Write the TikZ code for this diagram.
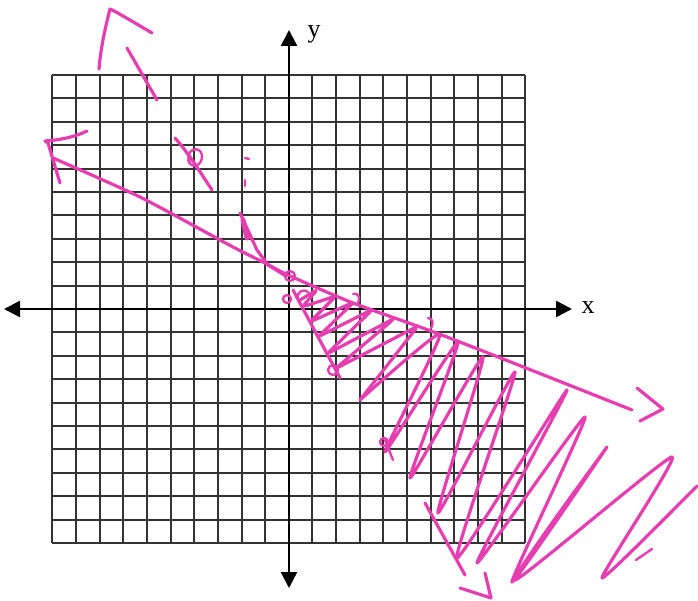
\documentclass[tikz,border=0pt]{standalone}
\usepackage{fontspec}
\setmainfont{Liberation Serif}
\usetikzlibrary{arrows.meta}
\definecolor{pen}{RGB}{230,62,176}
\begin{document}
\begin{tikzpicture}[x=1pt,y=-1pt,
  gridline/.style={black!80,line width=2pt},
  axis/.style={black,line width=2.4pt,{Triangle[length=16pt,width=16pt]}-{Triangle[length=16pt,width=16pt]}},
  marker/.style={pen,line width=3.2pt,line cap=round,line join=round},
  thinmarker/.style={pen,line width=2.4pt,line cap=round,line join=round},
  lbl/.style={font=\fontsize{26}{30}\selectfont,inner sep=0pt}]
\useasboundingbox (0,0) rectangle (698,601);
% grid
\foreach \i in {0,...,20} {\draw[gridline] ({52.3+23.65*\i},75) -- ({52.3+23.65*\i},543);}
\foreach \j in {0,...,20} {\draw[gridline] (52.3,{75+23.4*\j}) -- (525.3,{75+23.4*\j});}
% axes
\coordinate (xa) at (4,309);
\coordinate (xb) at (572,309);
\coordinate (ya) at (289,588);
\coordinate (yb) at (289,30);
\draw[axis] (xa) -- (xb);
\draw[axis] (ya) -- (yb);
\node[lbl] (xlab) at (588,308) {x};
\node[lbl] (ylab) at (314,34) {y};
% upper arrowhead of steep line
\draw[marker] (99,69) .. controls (101,45) and (106,25) .. (110,9) -- (116,12) .. controls (130,20) and (142,27) .. (152,33);
% steep line pieces
\draw[marker] (127,48) -- (157,100);
\draw[marker] (175,138) .. controls (190,155) and (200,172) .. (212,190);
\draw[thinmarker] (190,163) .. controls (183,150) and (200,144) .. (202,155) .. controls (203,166) and (191,170) .. (188,160);
\draw[thinmarker] (245,158) -- (249,159);
\draw[thinmarker] (245,180) -- (245,186);
\draw[marker] (240,213) -- (257,250) -- (268,265) -- (286,276);
\draw[pen,line width=5pt,line cap=round] (243,220) -- (247,238);
% shallow line with arrowheads
\draw[marker] plot[smooth,tension=0.4] coordinates {(53,158) (140,197) (233,247) (265,263) (288,275) (353,303) (447,337) (632,410)};
\draw[marker] (60,183) -- (48,143) -- (45,141) .. controls (60,140) and (75,137) .. (87,131);
\draw[marker] (637,388) -- (663,409) -- (640,421);
% marks
\draw[thinmarker] (290,276) circle[radius=5pt];
\draw[thinmarker] (287,299) circle[radius=4pt];
\draw[thinmarker] (298,299) .. controls (296,292) and (304,288) .. (308,292);
\draw[thinmarker] (353,294) .. controls (358,292) and (361,298) .. (358,303);
\draw[thinmarker] (428,318) .. controls (433,318) and (434,324) .. (431,328);
\draw[thinmarker] (333,370) circle[radius=5pt];
\draw[thinmarker] (384,442) circle[radius=4pt];
\draw[thinmarker] (385,440) -- (393,460);
% lower boundary of shading near origin
\draw[marker] (293,290) -- (340,378);
% shading zigzag
\draw[marker,rounded corners=5pt] (300,300) -- (318,289) -- (302,307) -- (336,296) -- (310,322) -- (354,302) -- (318,337) -- (373,309) -- (327,354) -- (395,318) -- (335,369) -- (418,326) -- (360,400);
\draw[marker] plot[smooth,tension=0.3] coordinates {(360,400) (440,334) (385,452) (458,342) (410,478) (483,357) (438,513) (515,372) (457,558) (567,390) (477,563) (585,417) (512,582) (607,447) (515,580) (672,457) (602,578) (697,486)};
\draw[thinmarker] (636,560) -- (652,549);
% lower arrow
\draw[marker] (425,503) -- (465,575);
\draw[marker] (460,588) -- (491,598) -- (485,573);
\end{tikzpicture}
\end{document}
